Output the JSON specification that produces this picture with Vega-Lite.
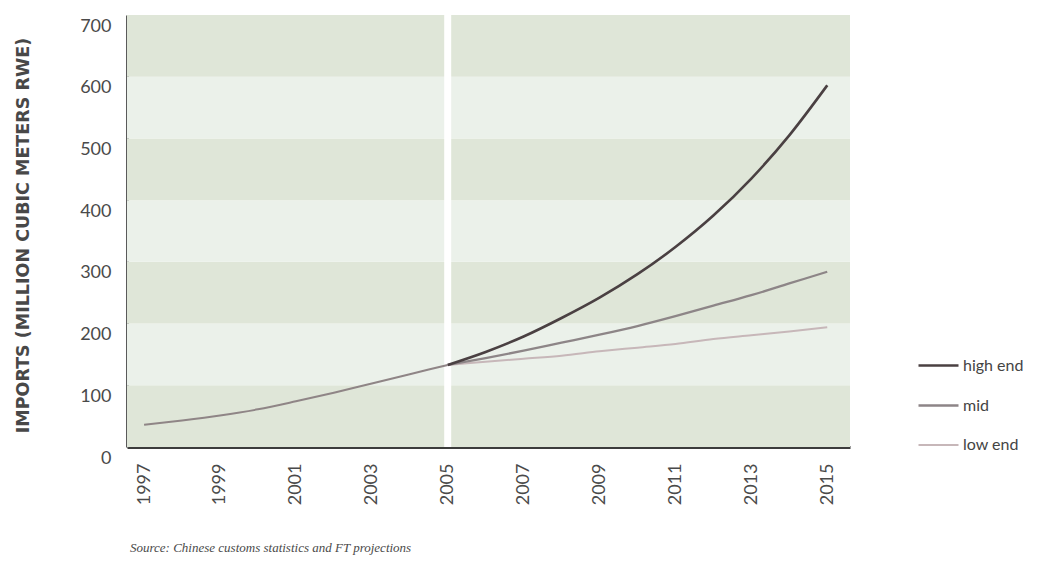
{
  "$schema": "https://vega.github.io/schema/vega-lite/v6.json",
  "autosize": "none",
  "width": 723,
  "height": 432,
  "padding": {"left": 127, "top": 15, "right": 193, "bottom": 115},
  "background": "white",
  "config": {"view": {"stroke": null}},
  "title": {
    "text": "Source: Chinese customs statistics and FT projections",
    "orient": "bottom",
    "anchor": "start",
    "frame": "group",
    "offset": 37,
    "font": "Liberation Serif",
    "fontStyle": "italic",
    "fontWeight": "normal",
    "fontSize": 13,
    "color": "#4a4a4a",
    "dx": 3
  },
  "datasets": {
    "bands": [
      {"lo": 0, "hi": 100, "shade": "dark"},
      {"lo": 100, "hi": 200, "shade": "light"},
      {"lo": 200, "hi": 300, "shade": "dark"},
      {"lo": 300, "hi": 400, "shade": "light"},
      {"lo": 400, "hi": 500, "shade": "dark"},
      {"lo": 500, "hi": 600, "shade": "light"},
      {"lo": 600, "hi": 700, "shade": "dark"}
    ],
    "marker": [{"year": 2005}],
    "hist": [
      {"year": 1997, "value": 36},
      {"year": 1998, "value": 43},
      {"year": 1999, "value": 51},
      {"year": 2000, "value": 61},
      {"year": 2001, "value": 74},
      {"year": 2002, "value": 88},
      {"year": 2003, "value": 103},
      {"year": 2004, "value": 118},
      {"year": 2005, "value": 133}
    ],
    "proj": [
      {"scenario": "low end", "year": 2005, "value": 133},
      {"scenario": "low end", "year": 2006, "value": 138},
      {"scenario": "low end", "year": 2007, "value": 143},
      {"scenario": "low end", "year": 2008, "value": 148},
      {"scenario": "low end", "year": 2009, "value": 155},
      {"scenario": "low end", "year": 2010, "value": 161},
      {"scenario": "low end", "year": 2011, "value": 167},
      {"scenario": "low end", "year": 2012, "value": 175},
      {"scenario": "low end", "year": 2013, "value": 181},
      {"scenario": "low end", "year": 2014, "value": 187},
      {"scenario": "low end", "year": 2015, "value": 194},
      {"scenario": "mid", "year": 2005, "value": 133},
      {"scenario": "mid", "year": 2006, "value": 144},
      {"scenario": "mid", "year": 2007, "value": 156},
      {"scenario": "mid", "year": 2008, "value": 169},
      {"scenario": "mid", "year": 2009, "value": 182},
      {"scenario": "mid", "year": 2010, "value": 196},
      {"scenario": "mid", "year": 2011, "value": 212},
      {"scenario": "mid", "year": 2012, "value": 229},
      {"scenario": "mid", "year": 2013, "value": 246},
      {"scenario": "mid", "year": 2014, "value": 265},
      {"scenario": "mid", "year": 2015, "value": 284},
      {"scenario": "high end", "year": 2005, "value": 133},
      {"scenario": "high end", "year": 2006, "value": 154},
      {"scenario": "high end", "year": 2007, "value": 179},
      {"scenario": "high end", "year": 2008, "value": 209},
      {"scenario": "high end", "year": 2009, "value": 242},
      {"scenario": "high end", "year": 2010, "value": 280},
      {"scenario": "high end", "year": 2011, "value": 324},
      {"scenario": "high end", "year": 2012, "value": 375},
      {"scenario": "high end", "year": 2013, "value": 435},
      {"scenario": "high end", "year": 2014, "value": 505},
      {"scenario": "high end", "year": 2015, "value": 586}
    ]
  },
  "encoding": {
    "x": {
      "field": "year",
      "type": "quantitative",
      "scale": {"domain": [1996.55, 2015.6], "nice": false, "zero": false},
      "axis": {
        "title": null,
        "values": [1997, 1999, 2001, 2003, 2005, 2007, 2009, 2011, 2013, 2015],
        "format": "d",
        "labelAngle": 270,
        "labelFont": "Lato",
        "labelFontSize": 18,
        "labelColor": "#4a4a4a",
        "labelPadding": 16,
        "ticks": false,
        "grid": false,
        "domainColor": "#3c3c3c",
        "domainWidth": 3
      }
    }
  },
  "layer": [
    {
      "data": {"name": "bands"},
      "mark": {"type": "rect"},
      "encoding": {
        "x": null,
        "y": {"field": "lo", "type": "quantitative", "scale": {"domain": [0, 700], "nice": false},
          "axis": {
            "title": "IMPORTS (MILLION CUBIC METERS RWE)",
            "titleFont": "DejaVu Sans",
            "titleFontWeight": "bold",
            "titleFontSize": 17.5,
            "titleColor": "#484848",
            "titleX": -104,
            "titleY": 220,
            "titleBaseline": "middle",
            "titleAlign": "center",
            "values": [0, 100, 200, 300, 400, 500, 600, 700],
            "labelFont": "Lato",
            "labelFontSize": 18,
            "labelColor": "#4a4a4a",
            "labelPadding": 16,
            "labelOffset": 11,
            "ticks": false,
            "grid": false,
            "domainColor": "#5a5a5a",
            "domainWidth": 3
          }
        },
        "y2": {"field": "hi"},
        "fill": {"field": "shade", "type": "nominal", "scale": {"domain": ["dark", "light"], "range": ["#dfe6d8", "#ebf1ea"]}, "legend": null}
      }
    },
    {
      "data": {"name": "marker"},
      "mark": {"type": "rule", "color": "white", "strokeWidth": 7},
      "encoding": {"x": {"field": "year", "type": "quantitative"}}
    },
    {
      "data": {"name": "hist"},
      "mark": {"type": "line", "color": "#8f8586", "strokeWidth": 2, "interpolate": "monotone"},
      "encoding": {
        "x": {"field": "year", "type": "quantitative"},
        "y": {"field": "value", "type": "quantitative"}
      }
    },
    {
      "data": {"name": "proj"},
      "mark": {"type": "line", "interpolate": "monotone"},
      "encoding": {
        "x": {"field": "year", "type": "quantitative"},
        "y": {"field": "value", "type": "quantitative"},
        "stroke": {
          "field": "scenario", "type": "nominal",
          "scale": {"domain": ["high end", "mid", "low end"], "range": ["#4a4042", "#8d8587", "#c7b7b9"]},
          "legend": {
            "title": null,
            "orient": "none",
            "legendX": 790,
            "legendY": 329,
            "symbolType": "stroke",
            "symbolSize": 1600,
            "labelFont": "Lato",
            "labelFontSize": 16,
            "labelColor": "#444444",
            "labelOffset": 3,
            "rowPadding": 10
          }
        },
        "strokeWidth": {
          "field": "scenario", "type": "nominal",
          "scale": {"domain": ["high end", "mid", "low end"], "range": [2.6, 2, 1.6]},
          "legend": {
            "title": null,
            "orient": "none",
            "legendX": 790,
            "legendY": 329,
            "symbolType": "stroke",
            "symbolSize": 1600,
            "labelFont": "Lato",
            "labelFontSize": 16,
            "labelColor": "#444444",
            "labelOffset": 3,
            "rowPadding": 10
          }
        }
      }
    }
  ]
}
